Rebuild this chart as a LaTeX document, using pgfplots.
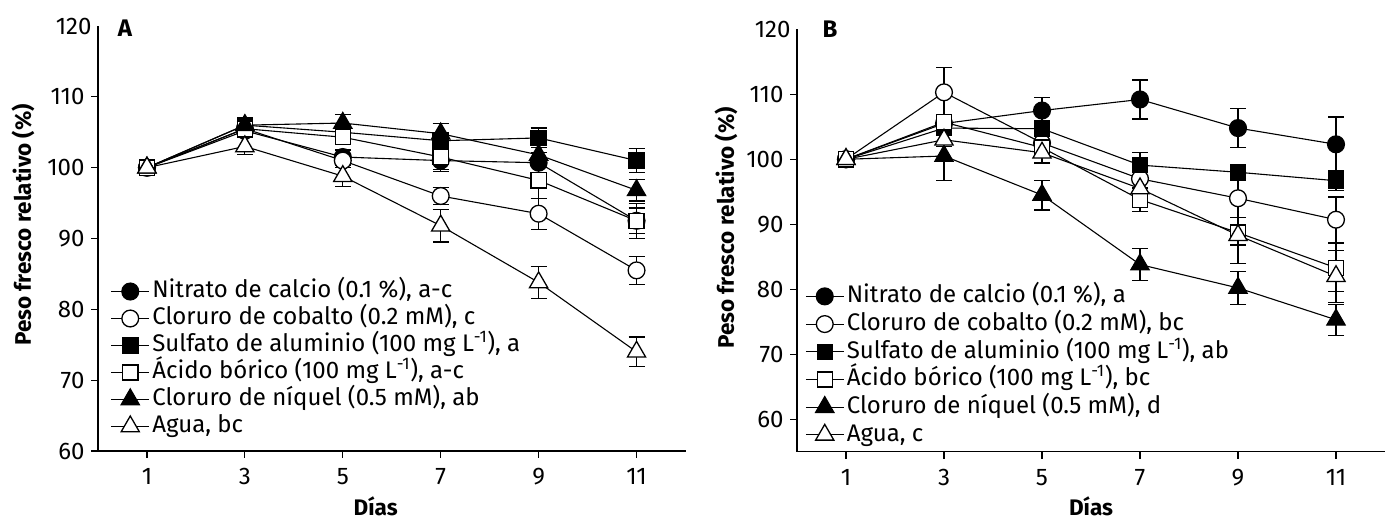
\documentclass[border=0pt]{standalone}
\usepackage{fontspec}
\setmainfont{Fira Sans}
\usepackage{pgfplots}
\pgfplotsset{compat=1.18}

\pgfplotstableread{
d v e
1 100 0
3 105.2 0.6
5 101.5 1.0
7 101.0 1.5
9 100.7 1.5
11 92.5 1.8
}\Anit
\pgfplotstableread{
d v e
1 100 0
3 105.5 0.6
5 101.0 1.0
7 96.0 1.2
9 93.5 2.2
11 85.5 2.0
}\Acob
\pgfplotstableread{
d v e
1 100 0
3 106.0 0.5
5 105.0 0.8
7 103.8 1.2
9 104.2 1.4
11 101.0 1.7
}\Asul
\pgfplotstableread{
d v e
1 100 0
3 105.5 0.6
5 104.3 0.8
7 101.5 1.8
9 98.2 2.5
11 92.5 2.5
}\Abor
\pgfplotstableread{
d v e
1 100 0
3 106.0 0.5
5 106.3 1.2
7 104.8 1.4
9 101.8 1.5
11 96.8 1.5
}\Aniq
\pgfplotstableread{
d v e
1 100 0
3 103.0 1.2
5 98.8 1.5
7 91.8 2.3
9 83.8 2.3
11 74.0 2.1
}\Aagu

\pgfplotstableread{
d v e
1 100 0
3 105.5 0.8
5 107.5 2.0
7 109.2 3.0
9 104.8 3.0
11 102.3 4.2
}\Bnit
\pgfplotstableread{
d v e
1 100 0
3 110.3 3.8
5 102.5 1.5
7 97.0 1.5
9 94.0 3.0
11 90.7 3.5
}\Bcob
\pgfplotstableread{
d v e
1 100 0
3 104.8 1.0
5 104.7 1.2
7 99.1 2.0
9 98.0 1.0
11 96.7 1.5
}\Bsul
\pgfplotstableread{
d v e
1 100 0
3 105.7 1.0
5 101.8 2.5
7 93.8 1.8
9 88.7 4.8
11 83.3 3.7
}\Bbor
\pgfplotstableread{
d v e
1 100 0
3 100.5 3.7
5 94.5 2.3
7 83.8 2.4
9 80.2 2.5
11 75.3 2.4
}\Bniq
\pgfplotstableread{
d v e
1 100 0
3 103.0 1.0
5 101.0 1.5
7 95.5 1.5
9 88.3 1.5
11 82.0 4.0
}\Bagu

\pgfplotsset{
  base/.style={
    scale only axis, clip=false,
    xmin=0, xmax=12, xtick={1,3,5,7,9,11},
    axis x line*=bottom, axis y line*=left,
    axis line style={line width=1.2pt, black, -},
    tick align=outside, major tick length=7pt,
    tick style={line width=1.2pt, black},
    /pgf/number format/assume math mode=true,
    ticklabel style={font=\fontsize{24}{26}\selectfont},
    xticklabel style={yshift=-7pt},
    yticklabel style={xshift=-3pt},
    extra y ticks={120}, extra y tick style={major tick length=0pt},
    label style={font=\bfseries\fontsize{22.5}{26}\selectfont},
    xlabel={Días}, ylabel={Peso fresco relativo (\%)},
    legend cell align=left,
    legend image code/.code={\draw[mark repeat=2, mark phase=2, #1] plot coordinates {(0pt,0pt) (19pt,0pt) (38pt,0pt)};},
  },
  ln/.style={black, line width=1.1pt},
  mfc/.style={ln, mark=*, mark size=8.4pt, mark options={fill=black, line width=1.3pt}},
  moc/.style={ln, mark=*, mark size=8.4pt, mark options={fill=white, line width=1.3pt}},
  mfs/.style={ln, mark=square*, mark size=7.6pt, mark options={fill=black, line width=1.3pt}},
  mos/.style={ln, mark=square*, mark size=7.6pt, mark options={fill=white, line width=1.3pt}},
  mft/.style={ln, mark=triangle*, mark size=10.5pt, mark options={fill=black, line width=1.3pt}},
  mot/.style={ln, mark=triangle*, mark size=10.5pt, mark options={fill=white, line width=1.3pt}},
  eb/.style={error bars/.cd, y dir=both, y explicit,
    error bar style={line width=1.1pt, black},
    error mark options={line width=1.1pt, mark size=8pt, black, rotate=90}},
}

\begin{document}
\begin{tikzpicture}
\path[use as bounding box] (0,0) rectangle (1387pt,519pt);

\begin{axis}[base,
  at={(98pt,68pt)}, anchor=south west,
  width=587.5pt, height=425pt,
  ymin=60, ymax=120, ytick={60,70,...,110},
  xlabel style={at={(axis description cs:0.4727,0)}, anchor=base, yshift=-64.5pt},
  ylabel style={at={(axis description cs:-0.1277,0.532)}, anchor=center},
  legend style={at={(axis description cs:0.0213,0.4075)}, anchor=north west,
    draw=none, fill=none, inner sep=0pt, row sep=0pt,
    font=\fontsize{24}{26}\selectfont,
    nodes={inner sep=2.5pt, text height=17pt, text depth=5pt}},
]
\addplot[mfc, eb] table[x=d, y=v, y error=e] {\Anit};
\addlegendentry{Nitrato de calcio (0.1 \%), a-c}
\addplot[moc, eb] table[x=d, y=v, y error=e] {\Acob};
\addlegendentry{Cloruro de cobalto (0.2 mM), c}
\addplot[mfs, eb] table[x=d, y=v, y error=e] {\Asul};
\addlegendentry{Sulfato de aluminio (100 mg L\textsuperscript{-1}), a}
\addplot[mos, eb] table[x=d, y=v, y error=e] {\Abor};
\addlegendentry{Ácido bórico (100 mg L\textsuperscript{-1}), a-c}
\addplot[mft, eb] table[x=d, y=v, y error=e] {\Aniq};
\addlegendentry{Cloruro de níquel (0.5 mM), ab}
\addplot[mot, eb] table[x=d, y=v, y error=e] {\Aagu};
\addlegendentry{Agua, bc}
\node[font=\bfseries\fontsize{24}{28}\selectfont] at (axis description cs:0.046,0.994) {A};
\end{axis}

\begin{axis}[base,
  at={(797pt,67.3pt)}, anchor=south west,
  width=588pt, height=422.4pt,
  ymin=55, ymax=120, ytick={60,70,...,110},
  xlabel style={at={(axis description cs:0.5,0)}, anchor=base, yshift=-63.8pt},
  ylabel style={at={(axis description cs:-0.1207,0.53)}, anchor=center},
  legend style={at={(axis description cs:0.0136,0.401)}, anchor=north west,
    draw=none, fill=none, inner sep=0pt, row sep=0pt,
    font=\fontsize{24}{26}\selectfont,
    nodes={inner sep=2.5pt, text height=17.7pt, text depth=5pt}},
]
\addplot[mfc, eb] table[x=d, y=v, y error=e] {\Bnit};
\addlegendentry{Nitrato de calcio (0.1 \%), a}
\addplot[moc, eb] table[x=d, y=v, y error=e] {\Bcob};
\addlegendentry{Cloruro de cobalto (0.2 mM), bc}
\addplot[mfs, eb] table[x=d, y=v, y error=e] {\Bsul};
\addlegendentry{Sulfato de aluminio (100 mg L\textsuperscript{-1}), ab}
\addplot[mos, eb] table[x=d, y=v, y error=e] {\Bbor};
\addlegendentry{Ácido bórico (100 mg L\textsuperscript{-1}), bc}
\addplot[mft, eb] table[x=d, y=v, y error=e] {\Bniq};
\addlegendentry{Cloruro de níquel (0.5 mM), d}
\addplot[mot, eb] table[x=d, y=v, y error=e] {\Bagu};
\addlegendentry{Agua, c}
\node[font=\bfseries\fontsize{24}{28}\selectfont] at (axis description cs:0.056,1.0) {B};
\end{axis}
\end{tikzpicture}
\end{document}
